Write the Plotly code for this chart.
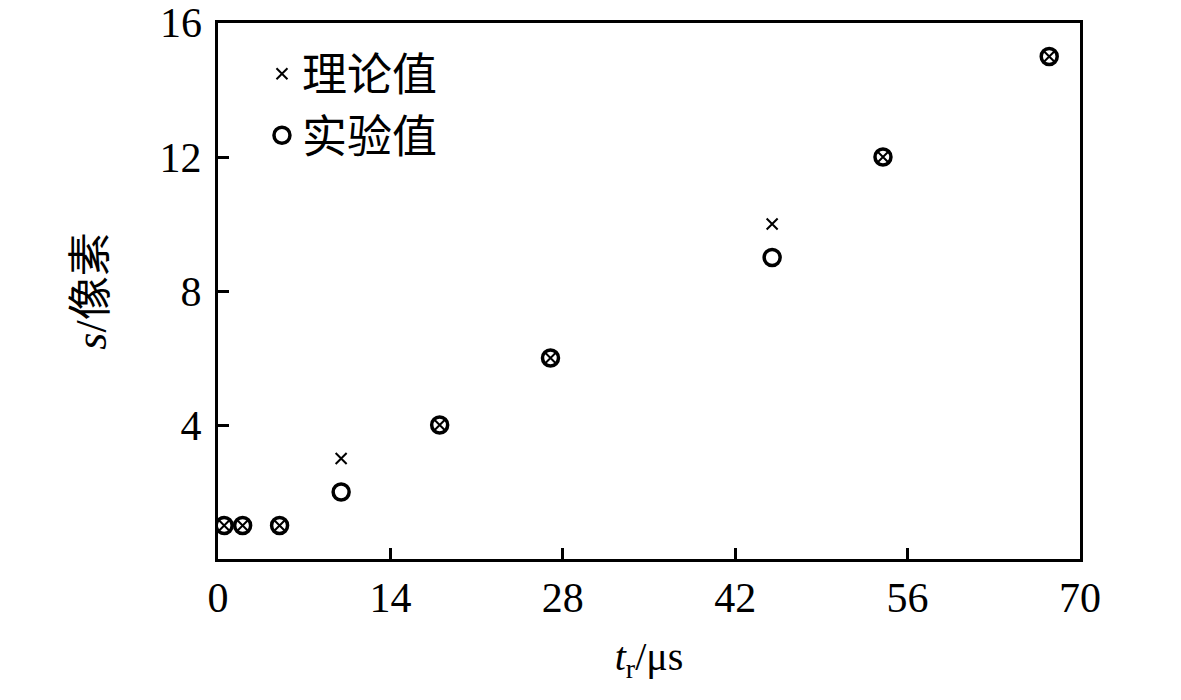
import plotly.graph_objects as go

# 上升时间 t_r (μs) 与偏移量 s (像素)
t_r = [0.5, 2, 5, 10, 18, 27, 45, 54, 67.5]
s_theory = [1, 1, 1, 3, 4, 6, 10, 12, 15]
s_exp = [1, 1, 1, 2, 4, 6, 9, 12, 15]

x_ticks = [0, 14, 28, 42, 56, 70]
y_ticks = [4, 8, 12, 16]

font_fam = 'Liberation Serif, Noto Sans CJK SC, serif'

fig = go.Figure()

fig.add_trace(go.Scatter(
    x=t_r, y=s_exp, mode='markers', name='实验值',
    marker=dict(symbol='circle-open', size=16, color='black',
                line=dict(width=3.5, color='black')),
))
fig.add_trace(go.Scatter(
    x=t_r, y=s_theory, mode='markers', name='理论值',
    marker=dict(symbol='x-thin-open', size=11, color='black',
                line=dict(width=2, color='black')),
))

# 顶端刻度标签贴近图边缘时会被隐藏, 用注释补画
y_labels = [str(v) for v in y_ticks[:-1]] + ['']

fig.update_layout(
    width=1181, height=700,
    margin=dict(l=210, r=109, t=12, b=149),
    plot_bgcolor='white', paper_bgcolor='white',
    font=dict(family=font_fam, size=42, color='black'),
    legend=dict(
        x=0.051, y=0.972, xanchor='left', yanchor='top',
        bgcolor='rgba(0,0,0,0)', traceorder='reversed',
        font=dict(family=font_fam, size=45),
        itemsizing='trace', tracegroupgap=0,
    ),
    xaxis=dict(
        range=[0, 70], tickvals=x_ticks, ticktext=[str(v) for v in x_ticks],
        ticks='inside', ticklen=11, tickwidth=2.5, tickcolor='black',
        showline=True, linewidth=3, linecolor='black', mirror=True,
        showgrid=False, zeroline=False,
        title=dict(text='<i>t</i><sub>r</sub>/μs', font=dict(size=40), standoff=22),
    ),
    yaxis=dict(
        range=[0, 16], tickvals=y_ticks, ticktext=y_labels,
        ticks='inside', ticklen=11, tickwidth=2.5, tickcolor='black',
        ticklabelstandoff=5,
        showline=True, linewidth=3, linecolor='black', mirror=True,
        showgrid=False, zeroline=False,
        title=dict(text='<i>s</i>/像素', font=dict(size=44), standoff=40),
    ),
    annotations=[dict(
        xref='paper', yref='y', x=0, y=y_ticks[-1], text=str(y_ticks[-1]),
        xanchor='right', yanchor='middle', xshift=-14, showarrow=False,
        font=dict(family=font_fam, size=42, color='black'),
    )],
)

fig.write_html("out.html")
